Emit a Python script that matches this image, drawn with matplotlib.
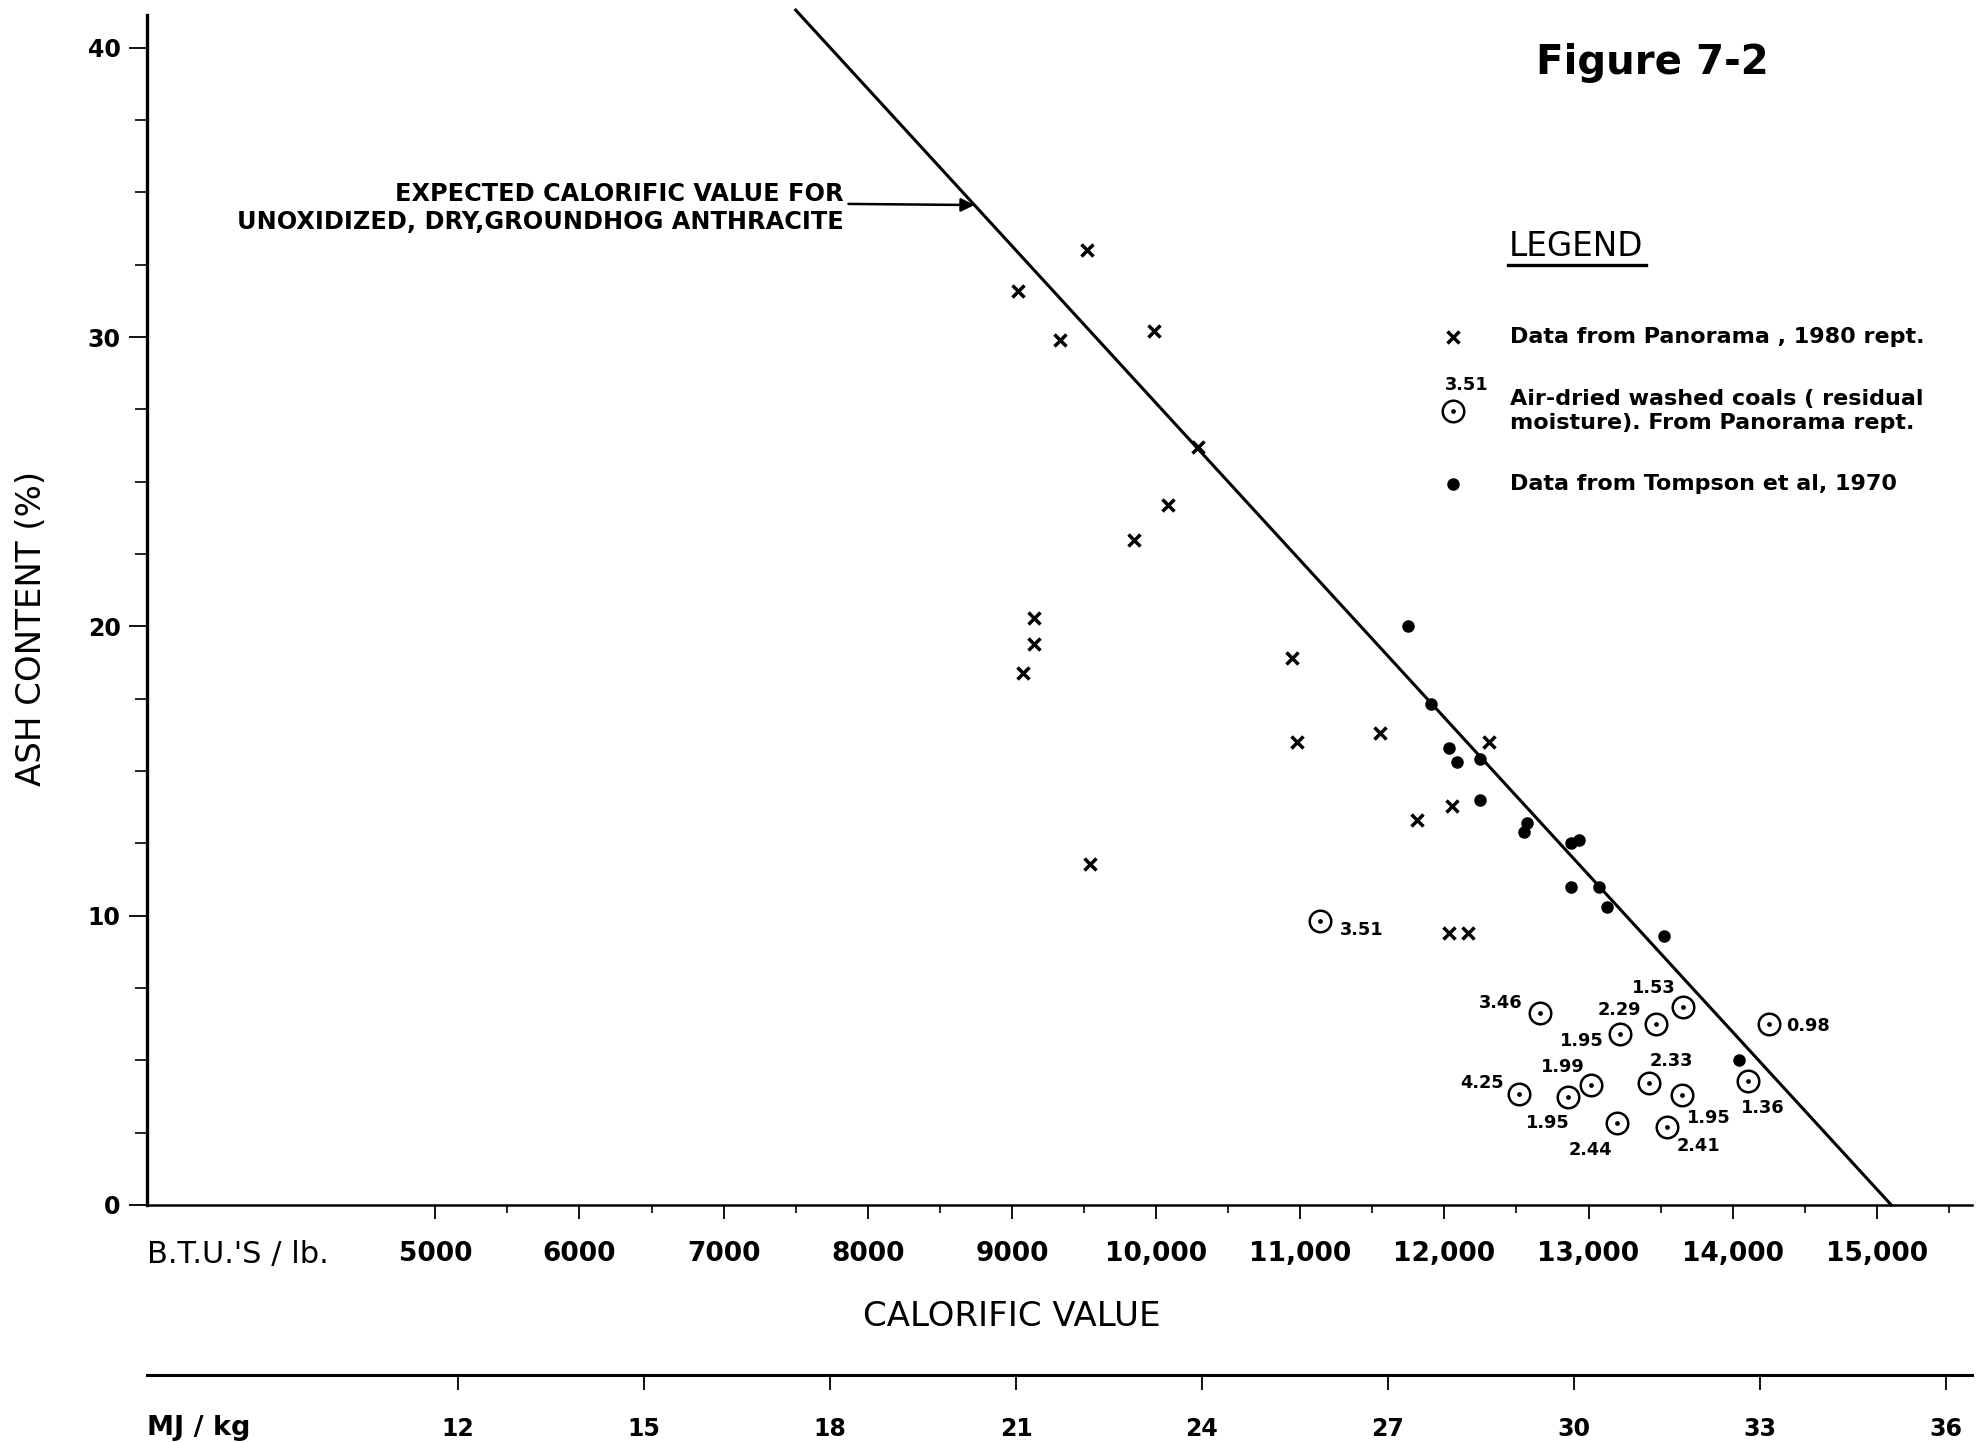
import numpy as np
import matplotlib
matplotlib.use("Agg")
import matplotlib.pyplot as plt
from matplotlib.ticker import FixedLocator, FixedFormatter, NullLocator
from matplotlib.patches import FancyArrowPatch

plt.rcParams['font.family'] = ['DejaVu Sans']

# ---------------- data ----------------
panorama_btu = [9520, 9045, 9330, 9985, 10290, 10080, 9845, 9155, 9150, 9080,
                10940, 10975, 9545, 11550, 11810, 12050, 12310, 12030, 12165]
panorama_ash = [33.0, 31.6, 29.9, 30.2, 26.2, 24.2, 23.0, 20.3, 19.4, 18.4,
                18.9, 16.0, 11.8, 16.3, 13.3, 13.8, 16.0, 9.4, 9.4]

tompson_btu = [11745, 11910, 12035, 12090, 12250, 12250, 12570, 12555, 12875,
               12935, 12880, 13075, 13130, 13525, 14045]
tompson_ash = [20.0, 17.3, 15.8, 15.3, 15.4, 14.0, 13.2, 12.9, 12.5,
               12.6, 11.0, 11.0, 10.3, 9.3, 5.0]

washed_btu = [11140, 12660, 13655, 13465, 13215, 14250, 12515, 13020, 12860,
              13420, 13645, 14105, 13195, 13545]
washed_ash = [9.8, 6.65, 6.85, 6.25, 5.9, 6.25, 3.85, 4.15, 3.75,
              4.2, 3.8, 4.3, 2.85, 2.7]
washed_moisture = ['3.51', '3.46', '1.53', '2.29', '1.95', '0.98', '4.25', '1.99', '1.95',
                   '2.33', '1.95', '1.36', '2.44', '2.41']

expected_btu = [7500, 15100]
expected_ash = [41.3, 0.0]

btu_major = [5000, 6000, 7000, 8000, 9000, 10000, 11000, 12000, 13000, 14000, 15000]
btu_labels = ['5000', '6000', '7000', '8000', '9000', '10,000', '11,000', '12,000',
              '13,000', '14,000', '15,000']
btu_minor = [5500, 6500, 7500, 8500, 9500, 10500, 11500, 12500, 13500, 14500, 15500]
mj_ticks = [12, 15, 18, 21, 24, 27, 30, 33, 36]
ash_major = [0, 10, 20, 30, 40]
ash_minor = [2.5, 5, 7.5, 12.5, 15, 17.5, 22.5, 25, 27.5, 32.5, 35, 37.5]

BTU_TO_MJ = 0.002326

# label placement (offset pixels, alignment) for the washed-coal labels
label_offsets = [(19, -9, 'left'), (-17, 10, 'right'), (-29, 19, 'center'),
                 (-14, 14, 'right'), (-16, -7, 'right'), (17, -2, 'left'),
                 (-15, 11, 'right'), (-29, 18, 'center'), (-21, -26, 'center'),
                 (22, 22, 'center'), (27, -23, 'center'), (15, -27, 'center'),
                 (-26, -27, 'center'), (31, -19, 'center')]

# ---------------- figure ----------------
W, H = 1988, 1443
fig = plt.figure(figsize=(W / 100, H / 100), dpi=100)
fig.patch.set_facecolor('white')


def fx(px):
    return px / W


def fy(py):
    return 1 - py / H


ax = fig.add_axes([fx(147), fy(1205), (1972 - 147) / W, (1205 - 15) / H])
ax.set_xlim(3000, 15660)
ax.set_ylim(0, 41.13)

for s in ['top', 'right']:
    ax.spines[s].set_visible(False)
ax.spines['left'].set_linewidth(2.4)
ax.spines['bottom'].set_linewidth(1.8)

ax.xaxis.set_major_locator(FixedLocator(btu_major))
ax.xaxis.set_major_formatter(FixedFormatter(btu_labels))
ax.xaxis.set_minor_locator(FixedLocator(btu_minor))
ax.yaxis.set_major_locator(FixedLocator(ash_major))
ax.yaxis.set_minor_locator(FixedLocator(ash_minor))

ax.tick_params(axis='x', which='major', direction='out', length=10, width=1.3,
               pad=16, labelsize=19)
ax.tick_params(axis='x', which='minor', direction='out', length=6, width=1.2)
ax.tick_params(axis='y', which='major', direction='out', length=13, width=1.3,
               pad=6, labelsize=17)
ax.tick_params(axis='y', which='minor', direction='out', length=9, width=1.2)
for lab in ax.get_xticklabels() + ax.get_yticklabels():
    lab.set_fontweight('bold')

# secondary MJ/kg axis
sec = ax.secondary_xaxis(-170 / 1190, functions=(lambda b: b * BTU_TO_MJ,
                                                  lambda m: m / BTU_TO_MJ))
sec.xaxis.set_major_locator(FixedLocator(mj_ticks))
sec.xaxis.set_minor_locator(NullLocator())
sec.tick_params(axis='x', direction='out', length=11, width=1.3, pad=19, labelsize=17)
for lab in sec.get_xticklabels():
    lab.set_fontweight('bold')
for s in sec.spines.values():
    s.set_linewidth(2.2)

# expected line
ax.plot(expected_btu, expected_ash, color='black', lw=2.2, clip_on=False, zorder=2)

# data
ax.plot(panorama_btu, panorama_ash, linestyle='none', marker='x', markersize=8.5,
        mew=2.5, color='black', zorder=3)
ax.plot(tompson_btu, tompson_ash, linestyle='none', marker='o', markersize=8,
        color='black', zorder=3)
ax.plot(washed_btu, washed_ash, linestyle='none', marker='o', markersize=15.5,
        mfc='white', mec='black', mew=1.8, zorder=3)
ax.plot(washed_btu, washed_ash, linestyle='none', marker='o', markersize=2.4,
        color='black', zorder=4)
for bx, ay, lab, (dx, dy, ha) in zip(washed_btu, washed_ash, washed_moisture, label_offsets):
    ax.annotate(lab, (bx, ay), xytext=(dx, dy), textcoords='offset pixels',
                ha=ha, va='center', fontsize=12.8, fontweight='bold')

# annotation for expected line
tip_x = 8740
tip_y = float(np.interp(tip_x, expected_btu, expected_ash))
ax.text(7830, 34.45, "EXPECTED CALORIFIC VALUE FOR\nUNOXIDIZED, DRY,GROUNDHOG ANTHRACITE",
        ha='right', va='center', fontsize=17.3, fontweight='bold', linespacing=1.2,
        multialignment='right')
arrow = FancyArrowPatch((7866, 34.6), (tip_x, tip_y), transform=ax.transData,
                        arrowstyle='-|>', mutation_scale=20, lw=1.8, color='black',
                        shrinkA=0, shrinkB=0, zorder=5)
ax.add_patch(arrow)

# axis texts
fig.text(fx(147), fy(1255), "B.T.U.'S / lb.", ha='left', va='center', fontsize=22)
fig.text(fx(147), fy(1428), "MJ / kg", ha='left', va='center', fontsize=19.5, fontweight='bold')
fig.text(fx(1012), fy(1316), "CALORIFIC VALUE", ha='center', va='center', fontsize=24.5)
fig.text(fx(32), fy(628), "ASH CONTENT (%)", ha='center', va='center', fontsize=24.5,
         rotation=90)
fig.text(fx(1652), fy(63), "Figure 7-2", ha='center', va='center', fontsize=29,
         fontweight='bold')

# legend
fig.text(fx(1509), fy(247), "LEGEND", ha='left', va='center', fontsize=23.5)
fig.add_artist(plt.Line2D([fx(1508), fx(1646)], [fy(265), fy(265)], color='black', lw=2.4))

ax.plot([fx(1453)], [fy(337)], transform=fig.transFigure, marker='x', markersize=8.5,
        mew=2.5, color='black', clip_on=False)
fig.text(fx(1510), fy(337), "Data from Panorama , 1980 rept.", ha='left', va='center',
         fontsize=16, fontweight='bold')

ax.plot([fx(1453)], [fy(411)], transform=fig.transFigure, marker='o', markersize=15.5,
        mfc='white', mec='black', mew=1.8, clip_on=False)
ax.plot([fx(1453)], [fy(411)], transform=fig.transFigure, marker='o', markersize=2.4,
        color='black', clip_on=False)
fig.text(fx(1467), fy(385), "3.51", ha='center', va='center', fontsize=12.8,
         fontweight='bold')
fig.text(fx(1510), fy(411), "Air-dried washed coals ( residual\nmoisture). From Panorama rept.",
         ha='left', va='center', fontsize=16, fontweight='bold', linespacing=1.2)

ax.plot([fx(1453)], [fy(484)], transform=fig.transFigure, marker='o', markersize=8,
        color='black', clip_on=False)
fig.text(fx(1510), fy(484), "Data from Tompson et al, 1970", ha='left', va='center',
         fontsize=16, fontweight='bold')

fig.savefig("out.png", dpi=100, facecolor='white')
